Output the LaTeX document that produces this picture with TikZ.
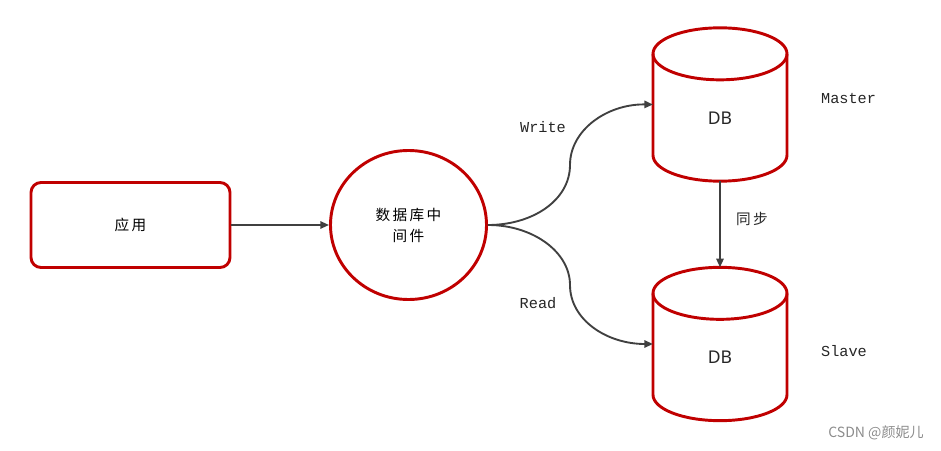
\documentclass[tikz,border=0pt]{standalone}
\usepackage{fontspec}
\usetikzlibrary{arrows.meta,shapes.geometric}
\newfontfamily\cjk[LetterSpace=16]{Noto Sans CJK SC}
\newfontfamily\markfont{Noto Sans CJK SC}
\newfontfamily\dbfont{Noto Sans}
\newfontfamily\labfont{Liberation Mono}
\definecolor{boxred}{HTML}{C00000}
\definecolor{arrowgray}{HTML}{404040}
\tikzset{
  redline/.style={draw=boxred, line width=2.5pt},
  appbox/.style={redline, rounded corners=0.3cm, minimum width=5.97cm, minimum height=2.55cm, font=\cjk\fontsize{12.5}{18}\selectfont},
  midball/.style={redline, ellipse, minimum width=4.68cm, minimum height=4.47cm, align=center, font=\cjk\fontsize{12.5}{18}\selectfont},
  dbnode/.style={rectangle, inner sep=0pt, outer sep=0pt, minimum width=4.02cm, minimum height=4.6cm},
  dbtext/.style={font=\dbfont\fontsize{15}{18}\selectfont, text=black!85},
  lab/.style={font=\labfont\fontsize{13}{15}\selectfont, text=black!85},
  cjklab/.style={font=\cjk\fontsize{12.5}{15}\selectfont, text=black!85},
  flow/.style={draw=arrowgray, line width=1.6pt, -{Triangle[length=0.26cm, width=0.22cm]}},
}
% cylinder drawn on a named rectangle node
\newcommand{\dbdraw}[1]{%
  \draw[redline] ([yshift=-0.78cm]#1.north west) -- ([yshift=0.78cm]#1.south west)
    arc[start angle=180, end angle=360, x radius=2.01cm, y radius=0.78cm]
    -- ([yshift=-0.78cm]#1.north east);
  \draw[redline] ([yshift=-0.78cm]#1.north) ellipse[x radius=2.01cm, y radius=0.78cm];
}
\begin{document}
\begin{tikzpicture}[x=0.03cm, y=-0.03cm]
  \useasboundingbox (0,0) rectangle (941,451);

  % application box on the left
  \node[appbox] (app) at (130.5,225) {应用};
  % middleware circle
  \node[midball] (mid) at (408.5,225) {数据库中\\间件};
  \draw[flow] (app.east) -- (mid.west);

  % master and slave databases
  \node[dbnode] (master) at (720,104.5) {};
  \dbdraw{master}
  \node[dbtext] (masterdb) at (720,118) {DB};
  \node[dbnode] (slave) at (720,344) {};
  \dbdraw{slave}
  \node[dbtext] (slavedb) at (720,357) {DB};

  % role names right of the databases
  \node[lab, anchor=west] (mastername) at (817,99) {Master};
  \node[lab, anchor=west] (slavename) at (817,351) {Slave};

  % write goes up, read goes down
  \draw[flow] (mid.east) .. controls (533,225) and (570,200) .. (570,165)
    .. controls (570,130) and (607,104) .. (master.west);
  \node[lab] (write) at (543,127) {Write};
  \draw[flow] (mid.east) .. controls (533,225) and (570,252) .. (570,285)
    .. controls (570,320) and (607,344) .. (slave.west);
  \node[lab] (read) at (538,303) {Read};

  % sync from master to slave
  \draw[flow] (master.south) -- (slave.north);
  \node[cjklab] (sync) at (752,219) {同步};

  % watermark
  \node[font=\markfont\fontsize{12}{14}\selectfont, text=black!45] (mark) at (876,433) {CSDN @颜妮儿};
\end{tikzpicture}
\end{document}
